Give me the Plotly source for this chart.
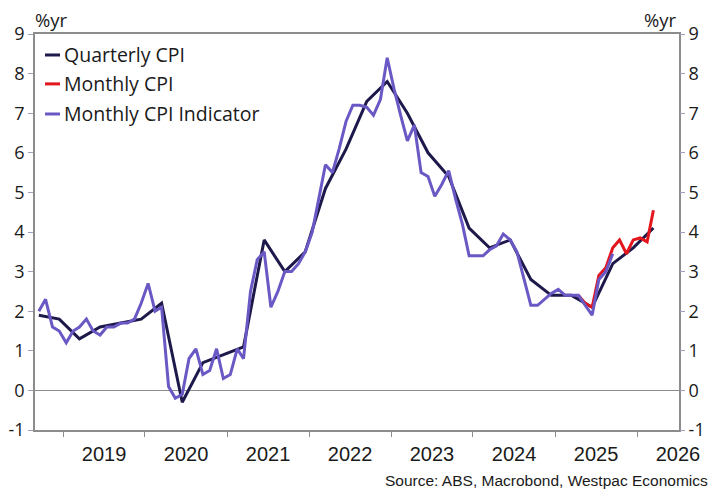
import pandas as pd
import plotly.graph_objects as go

# Quarterly CPI, year-ended % (quarter-end months Sep 2018 .. Mar 2026)
quarterly_start = "2018-09"
quarterly_cpi = [1.9, 1.8, 1.3, 1.6, 1.7, 1.8, 2.2, -0.3, 0.7, 0.9, 1.1, 3.8,
                 3.0, 3.5, 5.1, 6.1, 7.3, 7.8, 7.0, 6.0, 5.4, 4.1, 3.6, 3.8,
                 2.8, 2.4, 2.4, 2.1, 3.2, 3.6, 4.1]

# Monthly CPI (complete), Apr 2025 .. Mar 2026
monthly_start = "2025-04"
monthly_cpi = [2.4, 2.2, 2.1, 2.9, 3.1, 3.6, 3.8, 3.45, 3.8, 3.85, 3.75, 4.55]

# Monthly CPI Indicator, Sep 2018 .. Sep 2025
indicator_start = "2018-09"
monthly_indicator = [
    2.0, 2.3, 1.6, 1.5,
    1.2, 1.5, 1.6, 1.8, 1.5, 1.4, 1.6, 1.6, 1.7, 1.7, 1.8, 2.2,
    2.7, 2.0, 2.1, 0.1, -0.2, -0.1, 0.8, 1.05, 0.4, 0.5, 1.05, 0.3,
    0.4, 1.05, 0.8, 2.5, 3.3, 3.5, 2.1, 2.5, 3.0, 3.0, 3.2, 3.5,
    4.0, 4.9, 5.7, 5.5, 6.1, 6.8, 7.2, 7.2, 7.15, 6.95, 7.35, 8.4,
    7.6, 6.9, 6.3, 6.7, 5.5, 5.4, 4.9, 5.2, 5.55, 4.85, 4.2, 3.4,
    3.4, 3.4, 3.55, 3.65, 3.95, 3.8, 3.5, 2.8, 2.15, 2.15, 2.3, 2.45,
    2.55, 2.4, 2.4, 2.4, 2.15, 1.9, 2.8, 3.0, 3.45]

series_names = ["Quarterly CPI", "Monthly CPI", "Monthly CPI Indicator"]
series_colors = ["#1d1a4b", "#e3151d", "#6a58c4"]
y_ticks = list(range(-1, 10))
y_ticktext = [str(v) for v in y_ticks]


def month_dates(start, n, step=1):
    p = pd.Period(start, freq="M")
    return [(p + i * step).to_timestamp() + pd.Timedelta(days=14) for i in range(n)]


q_dates = month_dates(quarterly_start, len(quarterly_cpi), 3)
m_dates = month_dates(monthly_start, len(monthly_cpi))
i_dates = month_dates(indicator_start, len(monthly_indicator))

fig = go.Figure()
for name, xs, ys, col in zip(series_names,
                              [q_dates, m_dates, i_dates],
                              [quarterly_cpi, monthly_cpi, monthly_indicator],
                              series_colors):
    fig.add_trace(go.Scatter(x=xs, y=ys, mode="lines", name=name,
                             showlegend=False,
                             line=dict(color=col, width=3)))

# invisible trace to drive right axis
fig.add_trace(go.Scatter(x=[q_dates[0]], y=[0], yaxis="y2", mode="lines",
                         showlegend=False, hoverinfo="skip",
                         line=dict(color="rgba(0,0,0,0)")))

lab_font = dict(family="Open Sans, Noto Sans, sans-serif", size=18, color="#1a1a1a")
leg_font = dict(family="Open Sans, Noto Sans, sans-serif", size=19.5, color="#1a1a1a")
unit_font = dict(family="Open Sans, Noto Sans, sans-serif", size=18.5, color="#1a1a1a")
narrow_font = dict(family="Liberation Sans, Arial, sans-serif", size=20, color="#1a1a1a")
axis_grey = "#8c8c8c"

# legend drawn as line samples + text
legend_y = [0.947, 0.874, 0.798]
shapes = []
annotations = []
for name, col, ly in zip(series_names, series_colors, legend_y):
    shapes.append(dict(type="line", xref="paper", yref="paper",
                       x0=0.0155, x1=0.0388, y0=ly, y1=ly,
                       line=dict(color=col, width=3)))
    annotations.append(dict(text=name, xref="paper", yref="paper",
                            x=0.0425, y=ly, xanchor="left", yanchor="middle",
                            showarrow=False, font=leg_font))

annotations += [
    dict(text="%yr", xref="paper", yref="paper", x=-0.003, y=1.0,
         xanchor="left", yanchor="bottom", yshift=0, showarrow=False,
         font=unit_font),
    dict(text="%yr", xref="paper", yref="paper", x=1.0, y=1.0,
         xanchor="right", yanchor="bottom", yshift=0, showarrow=False,
         font=unit_font),
    dict(text="Source: ABS, Macrobond, Westpac Economics",
         xref="paper", yref="paper", x=1.048, y=-0.1,
         xanchor="right", yanchor="top", showarrow=False,
         font=dict(family="Liberation Sans, Arial, sans-serif",
                   size=15.5, color="#1a1a1a")),
]

# page body adds an 8px offset, so the figure is 8px smaller on each axis
fig.update_layout(
    width=712, height=486,
    margin=dict(l=27, r=41, t=26, b=64),
    paper_bgcolor="white", plot_bgcolor="white",
    showlegend=False,
    xaxis=dict(type="date", automargin=False,
               range=["2018-08-29", "2026-07-07"],
               tick0="2019-01-01", dtick="M12",
               ticklabelmode="period", tickformat="%Y",
               ticks="outside", ticklen=5, tickcolor=axis_grey,
               showgrid=False, zeroline=False,
               showline=True, linecolor=axis_grey, linewidth=1.5, mirror=True,
               tickfont=narrow_font),
    yaxis=dict(range=[-1, 9], tickvals=y_ticks, ticktext=y_ticktext,
               automargin=False,
               ticks="outside", ticklen=5, tickcolor="#a0a0c0",
               showgrid=False, zeroline=True, zerolinecolor="#8c8c8c",
               zerolinewidth=1,
               showline=True, linecolor=axis_grey, linewidth=1.5, mirror=True,
               tickfont=lab_font),
    yaxis2=dict(range=[-1, 9], tickvals=y_ticks, ticktext=y_ticktext,
                overlaying="y", side="right", automargin=False,
                ticks="outside", ticklen=5, tickcolor="#a0a0c0",
                showgrid=False, zeroline=False, showline=False,
                tickfont=lab_font),
    shapes=shapes,
    annotations=annotations,
)

fig.write_html("out.html")
